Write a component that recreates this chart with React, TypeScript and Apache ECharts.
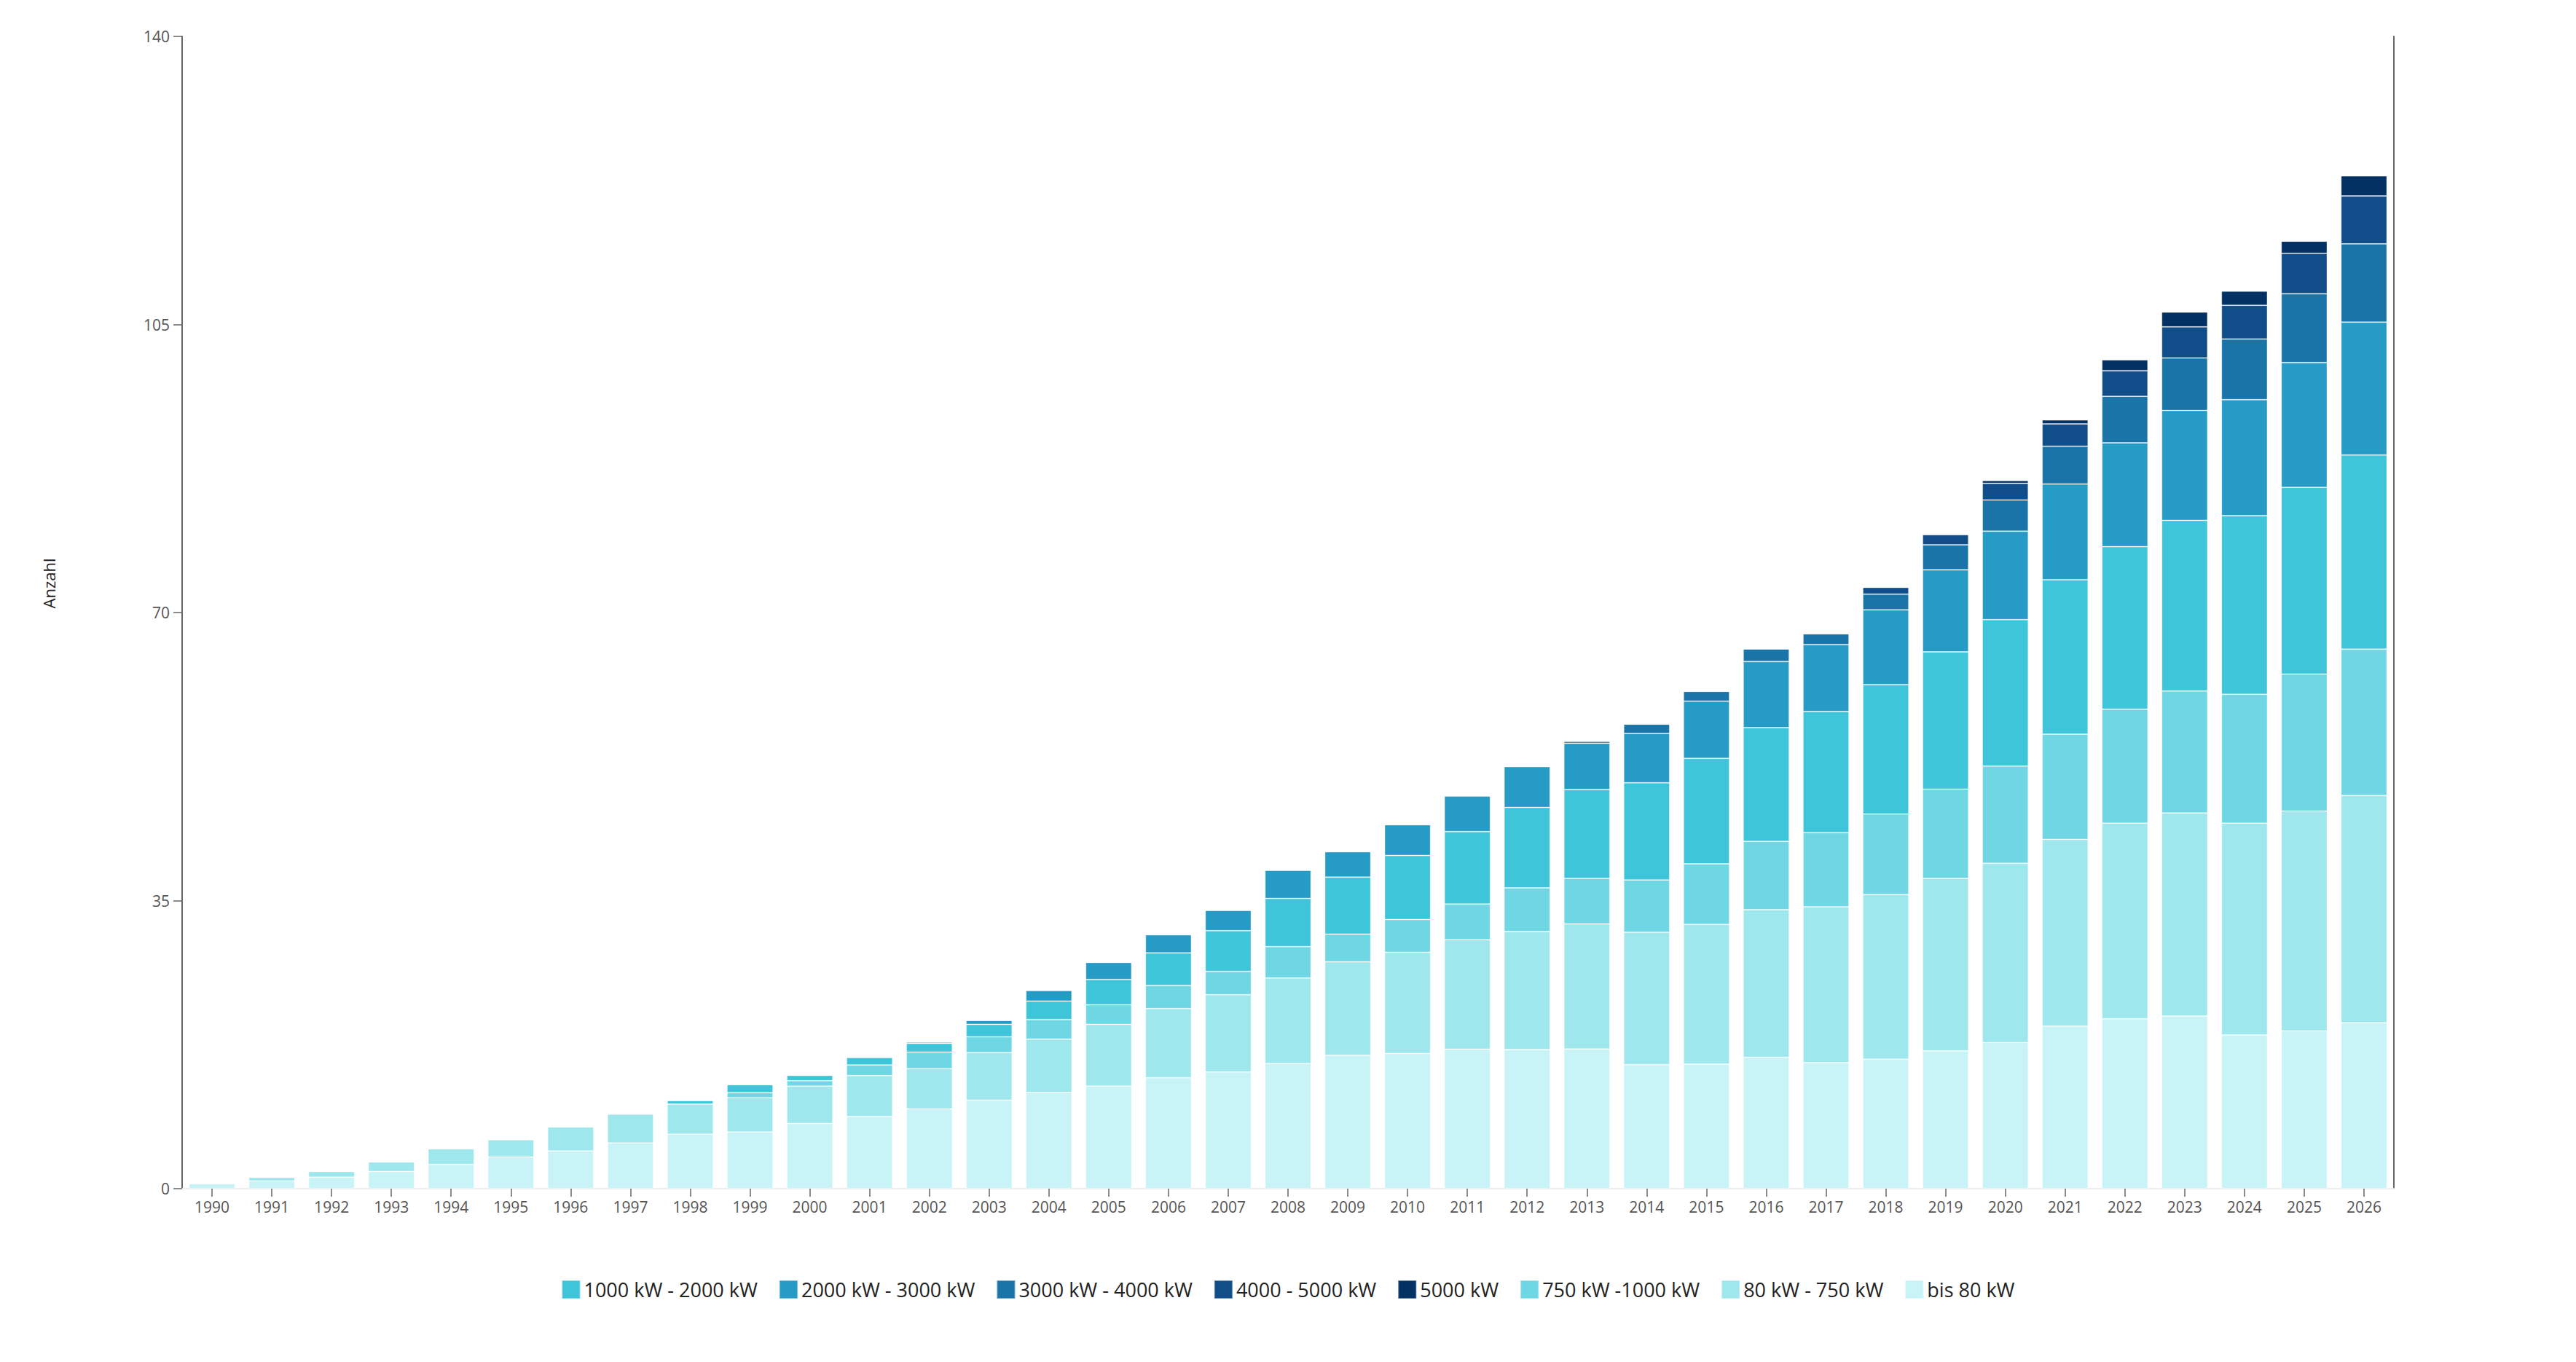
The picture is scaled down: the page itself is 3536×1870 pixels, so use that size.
import React, { useEffect, useRef } from "react";
import * as echarts from "echarts";

const years = [
  "1990","1991","1992","1993","1994","1995","1996","1997","1998","1999",
  "2000","2001","2002","2003","2004","2005","2006","2007","2008","2009",
  "2010","2011","2012","2013","2014","2015","2016","2017","2018","2019",
  "2020","2021","2022","2023","2024","2025","2026",
];

const bis80 = [
  0.62, 0.94, 1.39, 2.09, 2.95, 3.86, 4.57, 5.55, 6.62, 6.88,
  7.91, 8.77, 9.7, 10.75, 11.69, 12.46, 13.48, 14.18, 15.2, 16.21,
  16.42, 16.95, 16.91, 16.97, 15.07, 15.13, 15.96, 15.31, 15.73, 16.74,
  17.75, 19.75, 20.65, 20.98, 18.68, 19.17, 20.16,
];
const kw80to750 = [
  0, 0.45, 0.7, 1.15, 1.89, 2.1, 2.92, 3.51, 3.66, 4.17,
  4.55, 4.96, 4.87, 5.78, 6.48, 7.5, 8.4, 9.38, 10.4, 11.35,
  12.29, 13.3, 14.32, 15.2, 16.09, 16.98, 17.93, 18.93, 20.0, 20.95,
  21.78, 22.69, 23.76, 24.66, 25.73, 26.71, 27.61,
];
const kw750to1000 = [
  0, 0, 0, 0, 0, 0, 0, 0, 0, 0.62,
  0.65, 1.3, 2.03, 1.92, 2.38, 2.38, 2.8, 2.84, 3.81, 3.36,
  3.99, 4.34, 5.32, 5.52, 6.35, 7.36, 8.31, 9.02, 9.79, 10.86,
  11.81, 12.78, 13.84, 14.83, 15.65, 16.64, 17.78,
];
const kw1000to2000 = [
  0, 0, 0, 0, 0, 0, 0, 0, 0.44, 0.97,
  0.65, 0.92, 1.05, 1.51, 2.24, 3.08, 3.96, 4.94, 5.85, 6.93,
  7.78, 8.79, 9.77, 10.8, 11.81, 12.81, 13.82, 14.72, 15.73, 16.67,
  17.8, 18.77, 19.75, 20.73, 21.71, 22.69, 23.59,
];
const kw2000to3000 = [
  0, 0, 0, 0, 0, 0, 0, 0, 0, 0,
  0, 0, 0.17, 0.49, 1.3, 2.07, 2.21, 2.48, 3.43, 3.08,
  3.74, 4.34, 4.96, 5.63, 5.99, 6.95, 8.02, 8.13, 9.08, 9.97,
  10.74, 11.63, 12.62, 13.35, 14.09, 15.16, 16.14,
];
const kw3000to4000 = [
  0, 0, 0, 0, 0, 0, 0, 0, 0, 0,
  0, 0, 0, 0, 0, 0, 0, 0, 0, 0,
  0, 0, 0, 0.24, 1.13, 1.19, 1.54, 1.31, 1.9, 3.03,
  3.8, 4.59, 5.65, 6.39, 7.38, 8.36, 9.51,
];
const kw4000to5000 = [
  0, 0, 0, 0, 0, 0, 0, 0, 0, 0,
  0, 0, 0, 0, 0, 0, 0, 0, 0, 0,
  0, 0, 0, 0, 0, 0, 0, 0, 0.83, 1.25,
  2.02, 2.7, 3.12, 3.77, 4.09, 4.91, 5.82,
];
const kw5000 = [
  0, 0, 0, 0, 0, 0, 0, 0, 0, 0,
  0, 0, 0, 0, 0, 0, 0, 0, 0, 0,
  0, 0, 0, 0, 0, 0, 0, 0, 0, 0,
  0.35, 0.49, 1.31, 1.8, 1.72, 1.48, 2.45,
];

const yTicks = [0, 35, 70, 105, 140];

const seriesDefs = [
  { name: "bis 80 kW", data: bis80, color: "#c8f3f7" },
  { name: "80 kW - 750 kW", data: kw80to750, color: "#9de7ed" },
  { name: "750 kW -1000 kW", data: kw750to1000, color: "#6fd7e3" },
  { name: "1000 kW - 2000 kW", data: kw1000to2000, color: "#3ec5d9" },
  { name: "2000 kW - 3000 kW", data: kw2000to3000, color: "#269bc6" },
  { name: "3000 kW - 4000 kW", data: kw3000to4000, color: "#1a74a8" },
  { name: "4000 - 5000 kW", data: kw4000to5000, color: "#114e89" },
  { name: "5000 kW", data: kw5000, color: "#033163" },
];

const legendOrder = [
  "1000 kW - 2000 kW",
  "2000 kW - 3000 kW",
  "3000 kW - 4000 kW",
  "4000 - 5000 kW",
  "5000 kW",
  "750 kW -1000 kW",
  "80 kW - 750 kW",
  "bis 80 kW",
];

const FONT = "'Segoe UI', 'Open Sans', 'Noto Sans', sans-serif";

export default function App() {
  const ref = useRef<HTMLDivElement>(null);

  useEffect(() => {
    if (!ref.current) return;
    const chart = echarts.init(ref.current, undefined, { renderer: "svg" });
    const yMin = yTicks[0];
    const yMax = yTicks[yTicks.length - 1];
    const yInterval = yTicks[1] - yTicks[0];
    chart.setOption({
      animation: false,
      backgroundColor: "#ffffff",
      textStyle: { fontFamily: FONT },
      grid: { left: 250, right: 250, top: 50, bottom: 238, containLabel: false },
      legend: {
        data: legendOrder,
        left: "center",
        top: 1757,
        itemWidth: 25,
        itemHeight: 25,
        itemGap: 29,
        icon: "rect",
        padding: 0,
        textStyle: { fontSize: 27, color: "#222222", fontFamily: FONT },
      },
      xAxis: [
        {
          type: "category",
          data: years,
          axisLine: { show: true, lineStyle: { color: "#666666", width: 2 } },
          axisTick: { show: true, alignWithLabel: true, length: 11, lineStyle: { color: "#666666", width: 1.5 } },
          axisLabel: { fontSize: 21, color: "#555555", margin: 14, interval: 0, fontFamily: FONT },
          splitLine: { show: false },
        },
        {
          type: "category",
          data: years,
          position: "top",
          axisLine: { show: true, lineStyle: { color: "#eeeeee", width: 2 } },
          axisTick: { show: false },
          axisLabel: { show: false },
          splitLine: { show: false },
        },
      ],
      yAxis: [
        {
          type: "value",
          min: yMin,
          max: yMax,
          interval: yInterval,
          name: "Anzahl",
          nameLocation: "middle",
          nameRotate: 90,
          nameGap: 172,
          nameTextStyle: { fontSize: 22, color: "#222222", fontFamily: FONT, padding: [0, 0, 0, 80] },
          axisLine: { show: true, lineStyle: { color: "#666666", width: 2 } },
          axisTick: { show: true, length: 12, lineStyle: { color: "#666666", width: 1.5 } },
          axisLabel: { fontSize: 21, color: "#555555", margin: 17, fontFamily: FONT },
          splitLine: { show: false },
        },
        {
          type: "value",
          min: yMin,
          max: yMax,
          interval: yInterval,
          position: "right",
          axisLine: { show: true, lineStyle: { color: "#666666", width: 2 } },
          axisTick: { show: false },
          axisLabel: { show: false },
          splitLine: { show: false },
        },
      ],
      series: seriesDefs.map((s) => ({
        name: s.name,
        type: "bar",
        stack: "total",
        xAxisIndex: 0,
        yAxisIndex: 0,
        barCategoryGap: "23%",
        data: s.data,
        itemStyle: {
          color: s.color,
          borderColor: "rgba(255,255,255,0.35)",
          borderWidth: 1,
        },
        emphasis: { disabled: true },
      })),
    });
    return () => chart.dispose();
  }, []);

  return (
    <div
      ref={ref}
      style={{ position: "absolute", left: 0, top: 0, width: 3536, height: 1870 }}
    />
  );
}
